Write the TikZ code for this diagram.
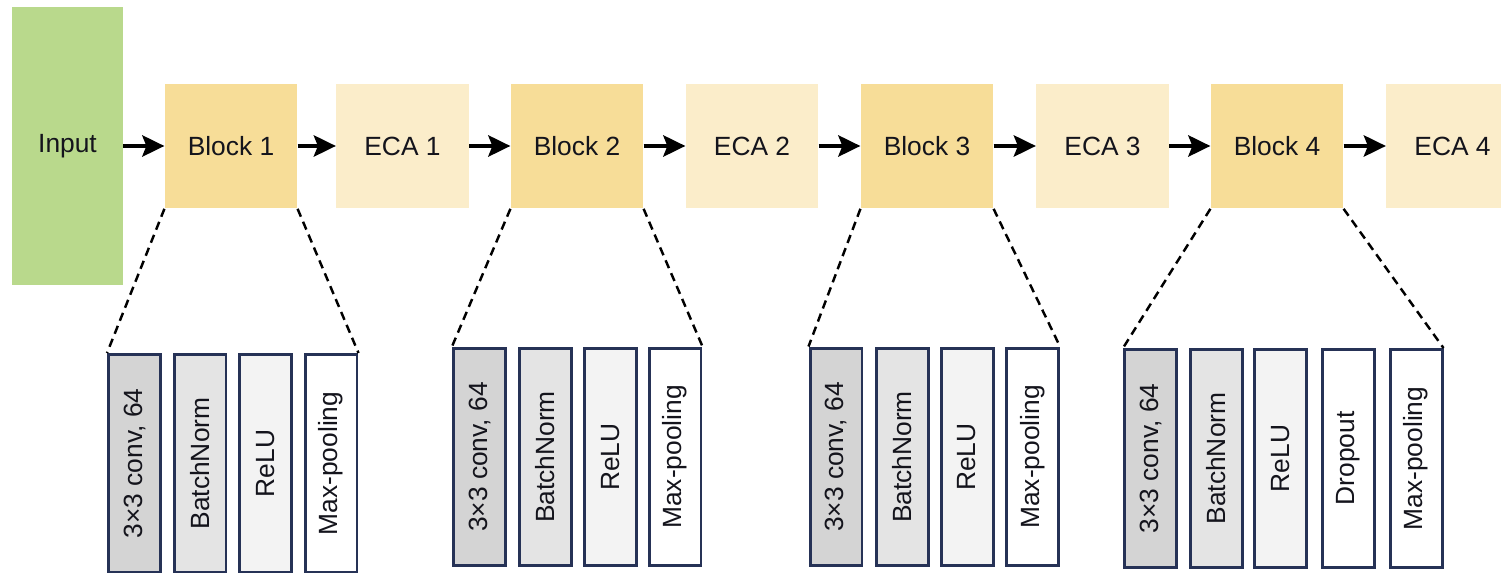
\documentclass[tikz,border=0pt]{standalone}
\usepackage{fontspec}
\setmainfont{Liberation Sans}
\usepackage{graphicx}
\usetikzlibrary{arrows.meta, positioning}
\definecolor{GI}{RGB}{185,217,140}
\definecolor{BK}{RGB}{247,221,152}
\definecolor{EC}{RGB}{251,237,202}
\definecolor{L1}{RGB}{212,212,212}
\definecolor{L2}{RGB}{228,228,228}
\definecolor{L3}{RGB}{243,243,243}
\definecolor{NV}{RGB}{38,50,86}
\definecolor{TX}{RGB}{20,20,28}

\begin{document}
\begin{tikzpicture}[
  x=0.02cm, y=-0.02cm,
  stage/.style={fill=#1, minimum width=2.65cm, minimum height=2.5cm,
                inner sep=0pt, text=TX, font=\fontsize{15}{18}\selectfont},
  lyr/.style={draw=NV, line width=1.7pt, fill=#1,
              minimum width=1.04cm, minimum height=4.36cm,
              inner sep=0pt, text=TX, font=\fontsize{15}{18}\selectfont},
  flow/.style={line width=2.8pt, -{Stealth[length=0.44cm, width=0.42cm, inset=0.08cm]}},
  expand/.style={line width=1.4pt, dash pattern=on 0.17cm off 0.11cm}
]
\useasboundingbox (0,0) rectangle (1501,573);
\clip (0,0) rectangle (1501,573);

% Main chain
\node[stage=GI, minimum width=2.22cm, minimum height=5.58cm] (in) at (67.5,146) {Input};
\node[stage=BK] (b1) at (231,146)    {Block 1};
\node[stage=EC] (e1) at (402.5,146)  {ECA 1};
\node[stage=BK] (b2) at (577,146)    {Block 2};
\node[stage=EC] (e2) at (752,146)    {ECA 2};
\node[stage=BK] (b3) at (927,146)    {Block 3};
\node[stage=EC] (e3) at (1102.5,146) {ECA 3};
\node[stage=BK] (b4) at (1277,146)   {Block 4};
\node[stage=EC] (e4) at (1452.5,146) {ECA 4};

% Connections
\draw[flow] (in)--(b1);
\draw[flow] (b1)--(e1);
\draw[flow] (e1)--(b2);
\draw[flow] (b2)--(e2);
\draw[flow] (e2)--(b3);
\draw[flow] (b3)--(e3);
\draw[flow] (e3)--(b4);
\draw[flow] (b4)--(e4);

% Block 1 layers
\node[lyr=L1]    (conv1) at (134.5,463.5) {\rotatebox{90}{3×3 conv, 64}};
\node[lyr=L2]    (bn1)   at (200,463.5)   {\rotatebox{90}{BatchNorm}};
\node[lyr=L3]    (relu1) at (265.5,463.5) {\rotatebox{90}{ReLU}};
\node[lyr=white] (pool1) at (331,463.5)   {\rotatebox{90}{Max-pooling}};

% Block 2 layers
\node[lyr=L1]    (conv2) at (479.5,457) {\rotatebox{90}{3×3 conv, 64}};
\node[lyr=L2]    (bn2)   at (545.5,457) {\rotatebox{90}{BatchNorm}};
\node[lyr=L3]    (relu2) at (610.5,457) {\rotatebox{90}{ReLU}};
\node[lyr=white] (pool2) at (675,457)   {\rotatebox{90}{Max-pooling}};

% Block 3 layers
\node[lyr=L1]    (conv3) at (836,457)    {\rotatebox{90}{3×3 conv, 64}};
\node[lyr=L2]    (bn3)   at (902.5,457)  {\rotatebox{90}{BatchNorm}};
\node[lyr=L3]    (relu3) at (967,457)    {\rotatebox{90}{ReLU}};
\node[lyr=white] (pool3) at (1032.5,457) {\rotatebox{90}{Max-pooling}};

% Block 4 layers
\node[lyr=L1]    (conv4) at (1150.5,458.5) {\rotatebox{90}{3×3 conv, 64}};
\node[lyr=L2]    (bn4)   at (1216,458.5)   {\rotatebox{90}{BatchNorm}};
\node[lyr=L3]    (relu4) at (1280.5,458.5) {\rotatebox{90}{ReLU}};
\node[lyr=white] (drop4) at (1348,458.5)   {\rotatebox{90}{Dropout}};
\node[lyr=white] (pool4) at (1416,458.5)   {\rotatebox{90}{Max-pooling}};

% Zoom-out lines
\draw[expand] (b1.south west)--(conv1.north west);
\draw[expand] (b1.south east)--(pool1.north east);
\draw[expand] (b2.south west)--(conv2.north west);
\draw[expand] (b2.south east)--(pool2.north east);
\draw[expand] (b3.south west)--(conv3.north west);
\draw[expand] (b3.south east)--(pool3.north east);
\draw[expand] (b4.south west)--(conv4.north west);
\draw[expand] (b4.south east)--(pool4.north east);
\end{tikzpicture}
\end{document}
